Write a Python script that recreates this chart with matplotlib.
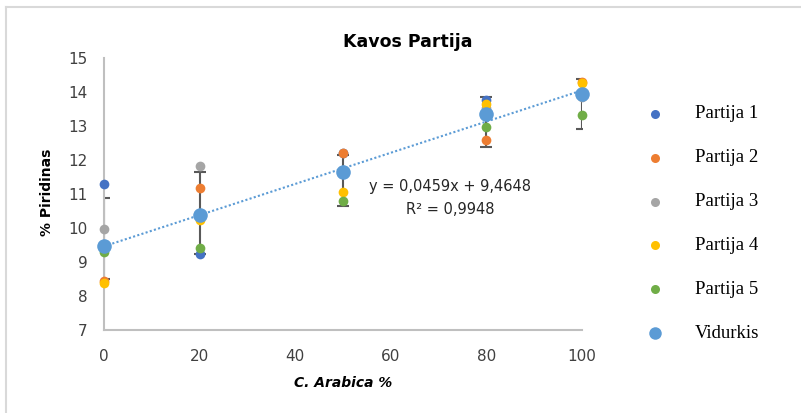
import matplotlib
matplotlib.use("Agg")
import matplotlib.pyplot as plt
from matplotlib.lines import Line2D
import numpy as np

# Coffee blend share (% C. arabica)
arabica = [0, 20, 50, 80, 100]

# Pyridine content per batch
partija_1 = [11.30, 9.24, 12.20, 13.77, 13.95]
partija_2 = [8.44, 11.19, 12.22, 12.59, 14.30]
partija_3 = [9.98, 11.83, 11.70, 13.55, 13.86]
partija_4 = [8.39, 10.25, 11.07, 13.65, 14.26]
partija_5 = [9.29, 9.42, 10.80, 12.99, 13.33]
vidurkis = [9.48, 10.39, 11.64, 13.35, 13.94]

# Error bar extents around the mean (below, above)
err_low = [0.99, 1.15, 0.98, 0.97, 1.03]
err_high = [1.40, 1.27, 0.51, 0.52, 0.44]

# Linear trend of the mean
slope = 0.0459
intercept = 9.4648
r_squared = 0.9948

series_names = ["Partija 1", "Partija 2", "Partija 3", "Partija 4", "Partija 5", "Vidurkis"]
series_vals = [partija_1, partija_2, partija_3, partija_4, partija_5, vidurkis]
colors = ["#4472C4", "#ED7D31", "#A5A5A5", "#FFC000", "#70AD47", "#5B9BD5"]

plt.rcParams["font.family"] = ["DejaVu Sans"]

W, H = 801, 413
fig = plt.figure(figsize=(W / 100, H / 100), dpi=100)
fig.patch.set_facecolor("white")

# light frame around the chart area (left and top edges)
fig.add_artist(Line2D([6 / W, 6 / W], [0, 1 - 7 / H], color="#D9D9D9", lw=1.5,
                      transform=fig.transFigure))
fig.add_artist(Line2D([6 / W, 1], [1 - 7 / H, 1 - 7 / H], color="#D9D9D9", lw=1.5,
                      transform=fig.transFigure))

ax = fig.add_axes([104 / W, (H - 330) / H, 478 / W, 271.7 / H])
ax.set_xlim(0, 100)
ax.set_ylim(7, 15)
ax.set_xticks([0, 20, 40, 60, 80, 100])
ax.set_yticks(range(7, 16))
ax.tick_params(length=0, labelsize=11, colors="#404040")
ax.tick_params(axis="y", pad=12)
ax.tick_params(axis="x", pad=14)
for s in ["top", "right"]:
    ax.spines[s].set_visible(False)
for s in ["left", "bottom"]:
    ax.spines[s].set_color("#BFBFBF")
    ax.spines[s].set_linewidth(1.5)

# trend line
xt = np.array([0, 100])
ax.plot(xt, slope * xt + intercept, linestyle=(0, (1, 1.1)), color="#5B9BD5",
        lw=1.5, zorder=2.5)

# error bars on the mean
ax.errorbar(arabica, vidurkis, yerr=[err_low, err_high], fmt="none",
            ecolor="#595959", elinewidth=1.5, capsize=4, capthick=1.5, zorder=2)

for name, vals, c in zip(series_names, series_vals, colors):
    size = 10.5 if name == "Vidurkis" else 7
    ax.plot(arabica, vals, linestyle="none", marker="o", markersize=size,
            color=c, markeredgewidth=0, clip_on=False,
            zorder=4 if name == "Vidurkis" else 3)

eq = f"y = {slope:.4f}x + {intercept:.4f}".replace(".", ",")
r2 = f"R² = {r_squared:.4f}".replace(".", ",")
fig.text(450 / W, 1 - 186 / H, eq, fontsize=10.5, color="#262626",
         ha="center", va="center")
fig.text(450 / W, 1 - 210 / H, r2, fontsize=10.5, color="#262626",
         ha="center", va="center")

fig.text(408 / W, 1 - 42 / H, "Kavos Partija", fontsize=12.5, fontweight="bold",
         color="#000000", ha="center", va="center")
fig.text(47 / W, 1 - 192 / H, "% Piridinas", fontsize=10, fontweight="bold",
         rotation=90, color="#000000", ha="center", va="center")
fig.text(343 / W, 1 - 383 / H, "C. Arabica %", fontsize=10, fontweight="bold",
         style="italic", color="#000000", ha="center", va="center")

# legend column on the right
rows_y = [114, 158, 202, 245, 289, 333]
for name, c, yy in zip(series_names, colors, rows_y):
    size = 9 if name == "Vidurkis" else 6.5
    fig.add_artist(Line2D([655 / W], [1 - yy / H], marker="o", markersize=size,
                          color=c, markeredgewidth=0, linestyle="none",
                          transform=fig.transFigure))
    fig.text(695 / W, 1 - yy / H, name, fontsize=13.5, family="Liberation Serif",
             color="#000000", ha="left", va="center")

fig.savefig("out.png", dpi=100)
